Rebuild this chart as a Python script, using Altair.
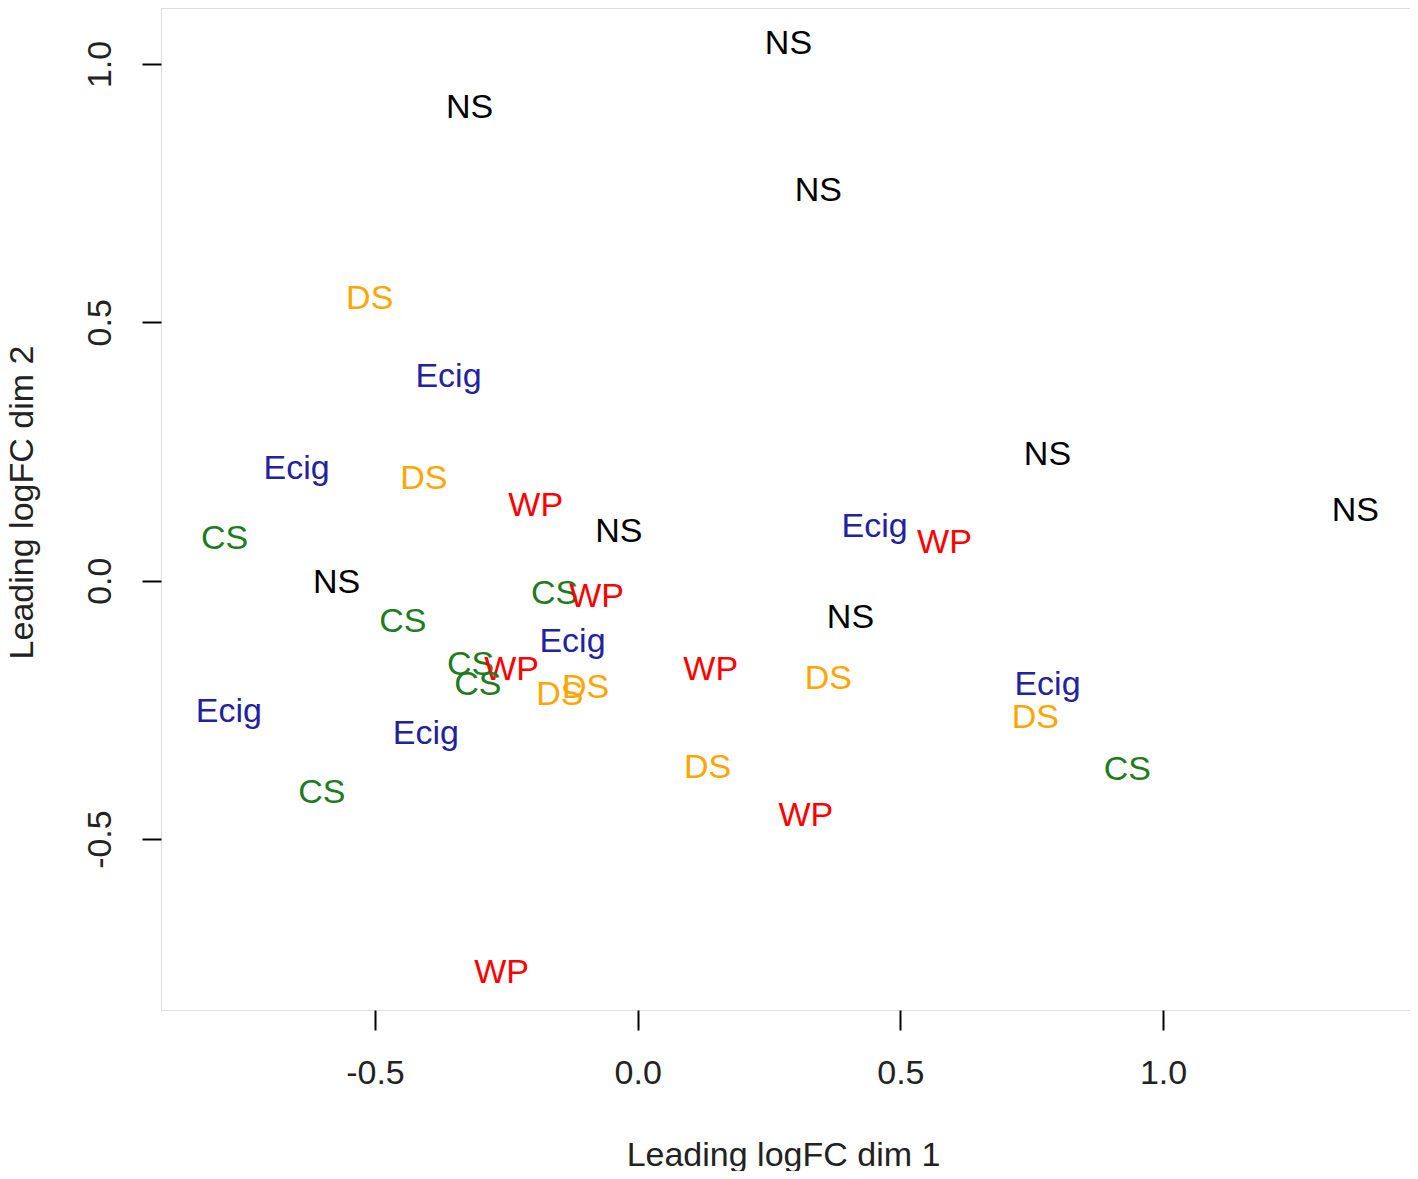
import altair as alt
import pandas as pd

labels = ["NS", "NS", "NS", "DS", "Ecig", "NS", "Ecig", "DS", "WP", "NS",
          "CS", "NS", "Ecig", "WP", "NS", "CS", "WP", "CS", "Ecig", "NS",
          "CS", "WP", "CS", "WP", "DS", "DS", "DS", "Ecig", "Ecig", "DS",
          "Ecig", "DS", "CS", "CS", "WP", "WP"]
dim1 = [0.287, -0.320, 0.344, -0.510, -0.360, 0.780, -0.649, -0.407, -0.194, 1.366,
        -0.786, -0.036, 0.451, 0.584, -0.573, -0.158, -0.078, -0.447, -0.124, 0.405,
        -0.318, -0.240, -0.304, 0.139, 0.363, -0.099, -0.148, 0.780, -0.778, 0.757,
        -0.403, 0.133, 0.932, -0.601, 0.320, -0.259]
dim2 = [1.039, 0.915, 0.754, 0.545, 0.395, 0.244, 0.217, 0.197, 0.145, 0.135,
        0.081, 0.095, 0.103, 0.072, -0.004, -0.025, -0.031, -0.079, -0.118, -0.072,
        -0.164, -0.172, -0.201, -0.172, -0.191, -0.207, -0.222, -0.201, -0.255, -0.265,
        -0.296, -0.362, -0.366, -0.410, -0.456, -0.760]

groups = ["NS", "DS", "Ecig", "WP", "CS"]
group_colors = ["#000000", "#FFA500", "#22229F", "#FF0000", "#1E7B1E"]
x_ticks = [-0.5, 0.0, 0.5, 1.0]
y_ticks = [-0.5, 0.0, 0.5, 1.0]

df = pd.DataFrame({"label": labels, "dim1": dim1, "dim2": dim2})

FONT = "Liberation Sans, Arial, sans-serif"
LABEL_EXPR = "replace(datum.label, '\u2212', '-')"

chart = alt.Chart(df).mark_text(
    font=FONT, fontSize=34, align="center", baseline="middle"
).encode(
    x=alt.X("dim1:Q",
            scale=alt.Scale(domain=[-0.9072, 1.4700], nice=False, zero=False),
            axis=alt.Axis(values=x_ticks, format=".1f", labelExpr=LABEL_EXPR,
                          title="Leading logFC dim 1",
                          grid=False, domain=False, tickSize=20, tickWidth=2,
                          tickColor="black", labelFont=FONT, labelFontSize=34,
                          labelColor="#222222", labelPadding=26, labelBaseline="top",
                          titleFont=FONT, titleFontSize=34, titleFontWeight="normal",
                          titleColor="#222222", titleX=622, titleY=155,
                          titleBaseline="alphabetic", titleAlign="center")),
    y=alt.Y("dim2:Q",
            scale=alt.Scale(domain=[-0.8308, 1.1083], nice=False, zero=False),
            axis=alt.Axis(values=y_ticks, format=".1f", labelExpr=LABEL_EXPR,
                          title="Leading logFC dim 2",
                          grid=False, domain=False, tickSize=19, tickWidth=2,
                          tickColor="black", labelFont=FONT, labelFontSize=34,
                          labelColor="#222222", labelAngle=270, labelAlign="center",
                          labelBaseline="bottom", labelPadding=25,
                          titleFont=FONT, titleFontSize=34, titleFontWeight="normal",
                          titleColor="#222222", titleAngle=270, titleX=-129, titleY=494,
                          titleBaseline="alphabetic", titleAlign="center")),
    color=alt.Color("label:N", scale=alt.Scale(domain=groups, range=group_colors),
                    legend=None),
    text="label:N",
).properties(
    width=1249, height=1002,
    autosize=alt.AutoSizeParams(type="none"),
    padding={"left": 153, "top": 0, "right": 0, "bottom": 161},
).configure_view(
    stroke="black", strokeWidth=2
).configure(background="white")

chart.save("out.html", embed_options={"renderer": "svg", "actions": False})
